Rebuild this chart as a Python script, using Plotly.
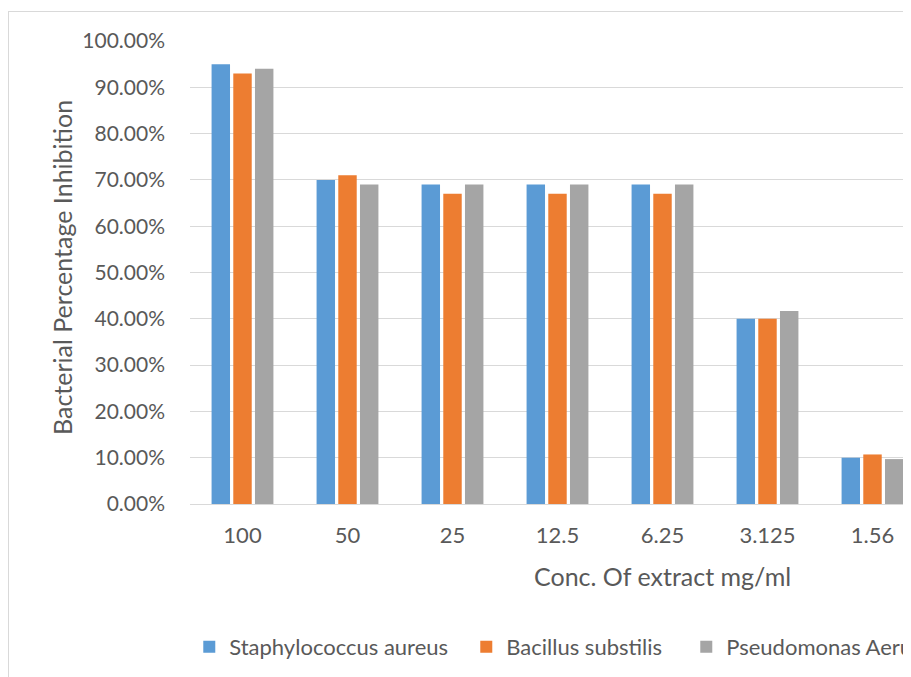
import plotly.graph_objects as go

categories = ["100", "50", "25", "12.5", "6.25", "3.125", "1.56"]
series_names = ["Staphylococcus aureus", "Bacillus substilis", "Pseudomonas Aeruginosa"]
staph = [0.95, 0.70, 0.69, 0.69, 0.69, 0.40, 0.100]
bacillus = [0.93, 0.71, 0.67, 0.67, 0.67, 0.40, 0.107]
pseudo = [0.94, 0.69, 0.69, 0.69, 0.69, 0.417, 0.097]
y_ticks = [0, 0.1, 0.2, 0.3, 0.4, 0.5, 0.6, 0.7, 0.8, 0.9, 1.0]

colors = ["#5B9BD5", "#ED7D31", "#A5A5A5"]
legend_widths = [232, 175, 220]

FONT = "Lato"
TXT = "#595959"

# the page adds an 8px body margin; work in page pixels and convert
OFF = 8
W, H = 911 - OFF, 677 - OFF
L = 190 - OFF
T = 41 - OFF
BOT = 504 - OFF
B = H - BOT
pw = W - L
ph = BOT - T

def px_x(p):
    return (p - OFF - L) / pw

def px_y(p):
    return (BOT - (p - OFF)) / ph

fig = go.Figure()
for name, vals, col, lw in zip(series_names, [staph, bacillus, pseudo], colors, legend_widths):
    fig.add_trace(go.Bar(x=categories, y=vals, name=name, marker_color=col,
                         marker_line_width=0, legendwidth=lw))

fig.update_layout(
    width=W, height=H,
    margin=dict(l=L, r=0, t=T, b=B, pad=0, autoexpand=False),
    paper_bgcolor="white", plot_bgcolor="white",
    barmode="group", bargap=0.38, bargroupgap=0.15,
    font=dict(family=FONT, size=20, color=TXT),
    showlegend=True,
    legend=dict(orientation="h", x=-0.001, xanchor="left", y=px_y(647), yanchor="middle",
                font=dict(family=FONT, size=22, color=TXT), traceorder="normal",
                bgcolor="rgba(0,0,0,0)"),
    xaxis=dict(type="category", range=[-0.5, -0.5 + pw / 105.0], showgrid=False,
               showline=False, zeroline=False, ticks="", ticklabelstandoff=16,
               tickfont=dict(family=FONT, size=22, color=TXT), fixedrange=True),
    yaxis=dict(range=[0, 1.0], tickvals=y_ticks, tickformat=".2%", showgrid=True,
               gridcolor="#d9d9d9", gridwidth=1, zeroline=True, zerolinecolor="#d9d9d9",
               zerolinewidth=1, showline=False, ticks="", ticklabelstandoff=24,
               tickfont=dict(family=FONT, size=21, color=TXT), fixedrange=True),
    annotations=[
        dict(text="Bacterial Percentage Inhibition", xref="paper", yref="paper",
             x=px_x(62), y=px_y(268), xanchor="center", yanchor="middle",
             textangle=-90, showarrow=False, font=dict(family=FONT, size=25, color=TXT)),
        dict(text="Conc. Of extract mg/ml", xref="paper", yref="paper",
             x=px_x(662), y=px_y(576), xanchor="center", yanchor="middle",
             showarrow=False, font=dict(family=FONT, size=25, color=TXT)),
    ],
    shapes=[
        dict(type="line", xref="paper", yref="paper", x0=px_x(8.5), x1=px_x(8.5),
             y0=px_y(11), y1=px_y(677), line=dict(color="#d9d9d9", width=1)),
        dict(type="line", xref="paper", yref="paper", x0=px_x(8.5), x1=px_x(911),
             y0=px_y(11.5), y1=px_y(11.5), line=dict(color="#d9d9d9", width=1)),
    ],
)

fig.write_html("out.html")
